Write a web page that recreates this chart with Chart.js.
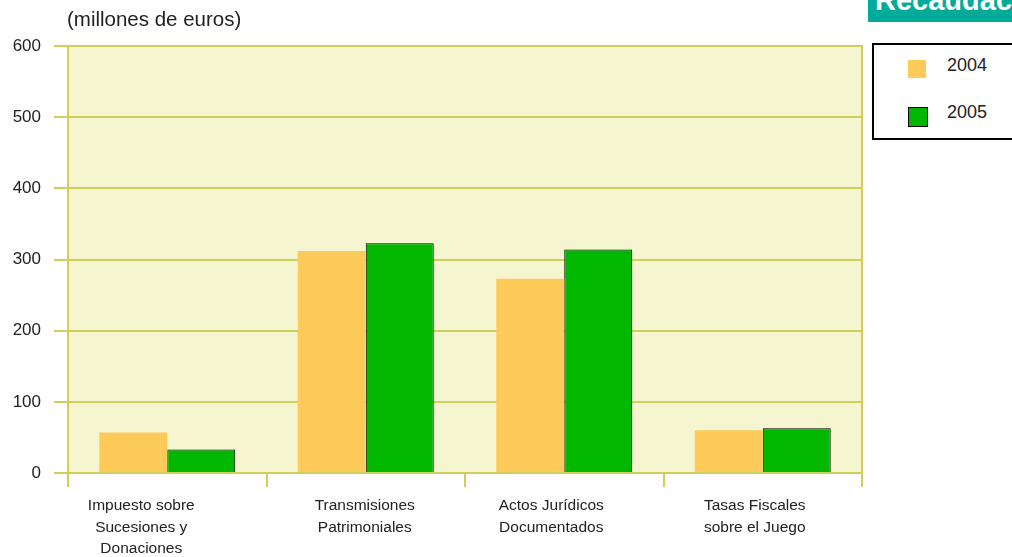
<!DOCTYPE html>
<html><head><meta charset="utf-8">
<script src="https://cdn.jsdelivr.net/npm/chart.js@4/dist/chart.umd.min.js"></script>
<style>
html,body{margin:0;padding:0;background:#fff;width:1012px;height:557px;overflow:hidden;font-family:"Liberation Sans",Arial,sans-serif;}
#wrap{position:absolute;left:0;top:0;width:1012px;height:557px;}
#unit{position:absolute;left:67px;top:7px;font-size:20.5px;color:#222;white-space:nowrap;}
#banner{position:absolute;left:868px;top:0;width:144px;height:22px;background:#00AC99;overflow:hidden;}
#banner span{position:absolute;left:7px;top:-16px;font-weight:bold;font-size:29px;color:#fff;white-space:nowrap;}
#legend{position:absolute;left:872px;top:43px;width:150px;height:93px;border:2px solid #000;background:#fff;}
.li{position:absolute;left:0;font-size:18px;color:#222;}
.sw{position:absolute;left:34px;width:18px;height:18px;}
.lt{position:absolute;left:73px;}
</style></head>
<body>
<div id="wrap"><canvas id="c" width="1012" height="557"></canvas></div>
<div id="unit">(millones de euros)</div>
<div id="banner"><span>Recaudación</span></div>
<div id="legend"></div>
<script>
const categories = [["Impuesto sobre","Sucesiones y","Donaciones"],["Transmisiones","Patrimoniales"],["Actos Jurídicos","Documentados"],["Tasas Fiscales","sobre el Juego"]];
const seriesNames = ["2004","2005"];
const values2004 = [57, 312, 273, 60];
const values2005 = [33, 323, 314, 63];
const yTicks = [0,100,200,300,400,500,600];

const GRID = '#CFCF5A';
const BG = '#F5F5D0';
const LABEL_FONT = '15.5px "Liberation Sans", Arial, sans-serif';
const labelNudge = [-26, -1, -13, -8]; // horizontal shift of category labels (style)

const bgPlugin = {
  id:'bg',
  beforeDraw(chart){
    const {ctx, chartArea:a} = chart;
    ctx.save(); ctx.fillStyle = BG; ctx.fillRect(a.left, a.top, a.right-a.left, a.bottom-a.top); ctx.restore();
  },
  afterDatasetsDraw(chart){
    const {ctx, chartArea:a} = chart;
    ctx.save(); ctx.strokeStyle = GRID; ctx.lineWidth = 2;
    ctx.beginPath(); ctx.moveTo(a.right, a.top-1); ctx.lineTo(a.right, a.bottom+14); ctx.stroke(); ctx.restore();
  },
  afterDraw(chart){
    const {ctx, chartArea:a} = chart;
    const xs = chart.scales.x;
    ctx.save(); ctx.font = LABEL_FONT; ctx.fillStyle = '#222'; ctx.textAlign='center'; ctx.textBaseline='alphabetic';
    chart.data.labels.forEach((lab,i)=>{
      const cx = xs.getPixelForValue(i) + labelNudge[i];
      (Array.isArray(lab)?lab:[lab]).forEach((line,j)=>{
        ctx.fillText(line, cx, a.bottom + 37 + j*21.5);
      });
    });
    ctx.restore();
  }
};

const chart = new Chart(document.getElementById('c'), {
  type:'bar',
  data:{
    labels: categories,
    datasets:[
      {label:seriesNames[0], data:values2004, backgroundColor:'#FECB5B', borderWidth:0},
      {label:seriesNames[1], data:values2005, backgroundColor:'#00B800', borderColor:'#000', borderWidth:1}
    ]
  },
  options:{
    responsive:false, animation:false,
    layout:{padding:{top:46,right:150,left:0,bottom:0}},
    plugins:{legend:{display:false}, tooltip:{enabled:false}},
    datasets:{bar:{categoryPercentage:0.685, barPercentage:1}},
    scales:{
      x:{
        z:1,
        grid:{offset:true, drawOnChartArea:false, drawTicks:true, tickLength:14, color:GRID, lineWidth:2},
        border:{display:true, color:GRID, width:2},
        ticks:{display:false},
        afterFit(s){ s.height = 84; }
      },
      y:{
        min:0, max:600,
        afterBuildTicks(s){ s.ticks = yTicks.map(v=>({value:v})); },
        grid:{color:GRID, lineWidth:2, tickLength:14, drawTicks:true},
        border:{display:true, color:GRID, width:2},
        ticks:{color:'#222', font:{family:'"Liberation Sans", Arial, sans-serif', size:17}, padding:13},
        afterFit(s){ s.width = 68; }
      }
    }
  },
  plugins:[bgPlugin]
});

// legend from dataset info
const lg = document.getElementById('legend');
chart.data.datasets.forEach((ds,i)=>{
  const row = document.createElement('div'); row.className='li'; row.style.top = (10 + i*47)+'px';
  const sw = document.createElement('div'); sw.className='sw'; sw.style.background = ds.backgroundColor; sw.style.top='5px';
  if (ds.borderWidth) { sw.style.border = '1px solid #000'; }
  const t = document.createElement('div'); t.className='lt'; t.textContent = ds.label;
  row.appendChild(sw); row.appendChild(t); lg.appendChild(row);
});
</script>
</body></html>
